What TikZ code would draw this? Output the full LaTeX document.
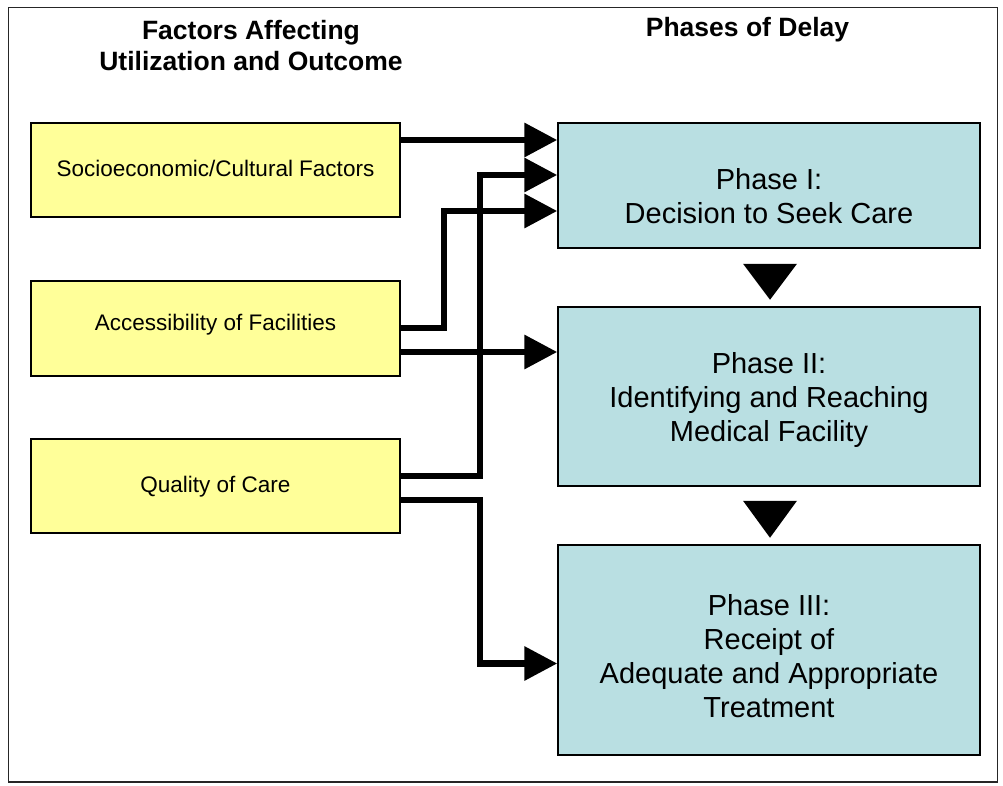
\documentclass[tikz,border=0pt]{standalone}
\usepackage{fontspec}
\setmainfont{Liberation Sans}
\usetikzlibrary{arrows.meta,calc}
\definecolor{boxyellow}{HTML}{FFFF99}
\definecolor{boxblue}{HTML}{B9DFE2}
\tikzset{
  factor/.style={draw=black, line width=1.5pt, fill=boxyellow, minimum width=369pt, minimum height=94pt, inner sep=0pt},
  factortext/.style={font=\fontsize{22.5}{27}\selectfont, align=center, inner sep=0pt},
  phase/.style={draw=black, line width=1.5pt, fill=boxblue, minimum width=422pt, inner sep=0pt},
  phasetext/.style={font=\fontsize{29}{34}\selectfont, align=center, inner sep=0pt},
  heading/.style={font=\fontsize{26.5}{31}\selectfont\bfseries, align=center, inner sep=0pt},
  conn/.style={line width=6.5pt, line join=miter, -{Triangle[length=33pt,width=33pt]}},
  downtri/.style={fill=black}
}
\begin{document}
\begin{tikzpicture}[x=1pt,y=-1pt]
\useasboundingbox (0,0) rectangle (1003,786);
\draw[line width=1.5pt, draw=black!85] (8.5,7.5) rectangle (997.5,782);

\node[heading] (h1) at (251,45.5) {Factors Affecting\\Utilization and Outcome};
\node[heading] (h2) at (747.5,30) {Phases of Delay};

\node[factor] (f1) at (215.5,170) {};
\node[factor, minimum height=95pt] (f2) at (215.5,328.5) {};
\node[factor] (f3) at (215.5,486) {};
\node[factortext] (ft1) at (215.5,168) {Socioeconomic/Cultural Factors};
\node[factortext] (ft2) at (215.5,324.5) {Accessibility of Facilities};
\node[factortext] (ft3) at (215.5,486.5) {Quality of Care};

\node[phase, minimum height=125pt] (p1) at (769,185.5) {};
\node[phase, minimum height=179pt] (p2) at (769,396.5) {};
\node[phase, minimum height=210pt] (p3) at (769,650) {};
\node[phasetext] (t1) at (769,196.5) {Phase I:\\Decision to Seek Care};
\node[phasetext] (t2) at (769,399.5) {Phase II:\\Identifying and Reaching\\Medical Facility};
\node[phasetext] (t3) at (769,656.5) {Phase III:\\Receipt of\\Adequate and Appropriate\\Treatment};

% connectors
\draw[conn] (f1.east |- 0,140) -- (p1.west |- 0,140);
\draw[conn] (f3.east |- 0,476) -- (480,476) -- (480,175) -- (p1.west |- 0,175);
\draw[conn] (f2.east |- 0,328) -- (444,328) -- (444,211) -- (p1.west |- 0,211);
\draw[conn] (f2.east |- 0,352) -- (p2.west |- 0,352);
\draw[conn] (f3.east |- 0,500) -- (480,500) -- (480,663.5) -- (p3.west |- 0,663.5);

% down triangles
\fill[downtri] ($(p1.south)+(-26,15)$) -- ($(p1.south)+(28,15)$) -- ($(p1.south)+(1,51)$) -- cycle;
\fill[downtri] ($(p2.south)+(-26,14)$) -- ($(p2.south)+(28,14)$) -- ($(p2.south)+(1,51)$) -- cycle;
\end{tikzpicture}
\end{document}
